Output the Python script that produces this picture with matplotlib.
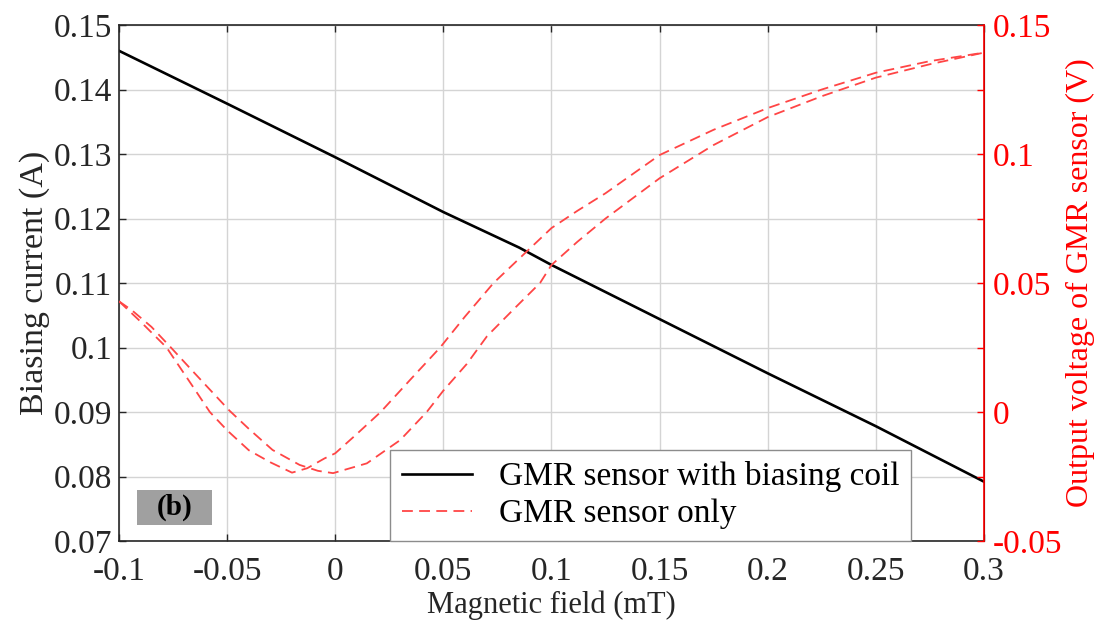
import matplotlib
matplotlib.use("Agg")
import matplotlib.pyplot as plt
from matplotlib.patches import Rectangle
import numpy as np

plt.rcParams['font.family'] = ['Liberation Serif', 'DejaVu Serif']
plt.rcParams['axes.unicode_minus'] = False

# Biasing current (left axis)
x_coil = [-0.1, -0.05, 0.0, 0.05, 0.085, 0.1, 0.15, 0.2, 0.25, 0.3]
i_coil = [0.146, 0.1378, 0.1295, 0.121, 0.1155, 0.1128, 0.1044, 0.096, 0.0878, 0.0792]

# GMR sensor only output (right axis) - branch 1
x_b1 = [-0.1, -0.09, -0.078, -0.065, -0.058, -0.05, -0.04, -0.03, -0.02, -0.013,
        -0.005, 0.0, 0.01, 0.021, 0.035, 0.0485, 0.06, 0.0732, 0.085, 0.1, 0.112,
        0.125, 0.15, 0.175, 0.2, 0.225, 0.25, 0.275, 0.3]
v_b1 = [0.0429, 0.035, 0.025, 0.0088, 0.0, -0.0071, -0.0148, -0.0195, -0.0235, -0.0218,
        -0.018, -0.016, -0.0085, 0.0, 0.0128, 0.025, 0.037, 0.05, 0.0594, 0.0713, 0.078,
        0.0848, 0.0996, 0.1094, 0.1178, 0.125, 0.1315, 0.136, 0.1393]

# branch 2
x_b2 = [-0.1, -0.094, -0.085, -0.076, -0.065, -0.049, -0.04, -0.029, -0.0165, -0.008,
        -0.001, 0.0146, 0.03, 0.0423, 0.05, 0.0608, 0.0702, 0.0827, 0.0947, 0.1, 0.112,
        0.125, 0.15, 0.175, 0.2, 0.225, 0.25, 0.275, 0.3]
v_b2 = [0.0429, 0.0394, 0.033, 0.025, 0.015, 0.0006, -0.0065, -0.0147, -0.0205, -0.0228,
        -0.0237, -0.0199, -0.0109, 0.0, 0.0083, 0.0186, 0.0294, 0.040, 0.05, 0.057, 0.066,
        0.075, 0.0906, 0.1035, 0.1143, 0.1224, 0.1296, 0.1348, 0.1393]

x_ticks = [-0.1, -0.05, 0, 0.05, 0.1, 0.15, 0.2, 0.25, 0.3]
x_labels = ['-0.1', '-0.05', '0', '0.05', '0.1', '0.15', '0.2', '0.25', '0.3']
yl_ticks = [0.07, 0.08, 0.09, 0.1, 0.11, 0.12, 0.13, 0.14, 0.15]
yl_labels = ['0.07', '0.08', '0.09', '0.1', '0.11', '0.12', '0.13', '0.14', '0.15']
yr_ticks = [-0.05, -0.025, 0, 0.025, 0.05, 0.075, 0.1, 0.125, 0.15]
yr_labels = ['-0.05', '', '0', '', '0.05', '', '0.1', '', '0.15']

fig = plt.figure(figsize=(11.01, 6.22), dpi=100)
ax = fig.add_axes([0.1081, 0.1302, 0.7856, 0.8296])
ax2 = ax.twinx()

red = '#ff0000'
l1, = ax.plot(x_coil, i_coil, color='black', lw=1.9, label='GMR sensor with biasing coil')
l2, = ax2.plot(x_b1, v_b1, color='#ff4545', lw=1.3, ls=(0, (6, 3.5)), label='GMR sensor only')
ax2.plot(x_b2, v_b2, color='#ff4545', lw=1.3, ls=(0, (6, 3.5)))

ax.set_xlim(-0.1, 0.3)
ax.set_ylim(0.07, 0.15)
ax2.set_ylim(-0.05, 0.15)

ax.set_xticks(x_ticks)
ax.set_xticklabels(x_labels)
ax.set_yticks(yl_ticks)
ax.set_yticklabels(yl_labels)
ax2.set_yticks(yr_ticks)
ax2.set_yticklabels(yr_labels)

fs = 24
ax.tick_params(axis='x', direction='in', top=True, length=5, width=1, labelsize=fs,
               colors='#262626', pad=11)
ax.tick_params(axis='y', direction='in', right=False, length=5, width=1, labelsize=fs,
               colors='#262626', pad=5)
ax2.tick_params(axis='y', direction='in', length=5, width=1, labelsize=fs,
                colors=red, pad=6)

ax.grid(True, color='#d4d4d4', lw=1)
ax.set_axisbelow(True)

for s in ['left', 'bottom', 'top']:
    ax.spines[s].set_color('#262626')
    ax.spines[s].set_linewidth(1.2)
ax2.spines['right'].set_color(red)
ax2.spines['right'].set_linewidth(1.2)
for s in ['left', 'bottom', 'top']:
    ax2.spines[s].set_visible(False)

ax.set_xlabel('Magnetic field (mT)', fontsize=22, color='#262626', labelpad=3)
ax.set_ylabel('Biasing current (A)', fontsize=24.5, color='#262626', labelpad=2.5)
ax2.set_ylabel('Output voltage of GMR sensor (V)', fontsize=23, color=red, labelpad=3)

leg = ax2.legend(handles=[l1, l2], loc='lower left', bbox_to_anchor=(0.3137, 0.0),
                 borderaxespad=0, fontsize=24, frameon=True, fancybox=False,
                 edgecolor='#8c8c8c', framealpha=1, handlelength=2.1,
                 borderpad=0.35, labelspacing=0.2, handletextpad=0.8)
leg.get_frame().set_linewidth(1.0)

ax.add_patch(Rectangle((0.0208, 0.031), 0.0868, 0.0678, transform=ax.transAxes,
                       facecolor='#a0a0a0', edgecolor='none', zorder=3))
ax.text(0.0642, 0.065, '(b)', transform=ax.transAxes, fontsize=21, fontweight='bold',
        ha='center', va='center', color='black', zorder=4)

fig.savefig('out.png', dpi=100)
